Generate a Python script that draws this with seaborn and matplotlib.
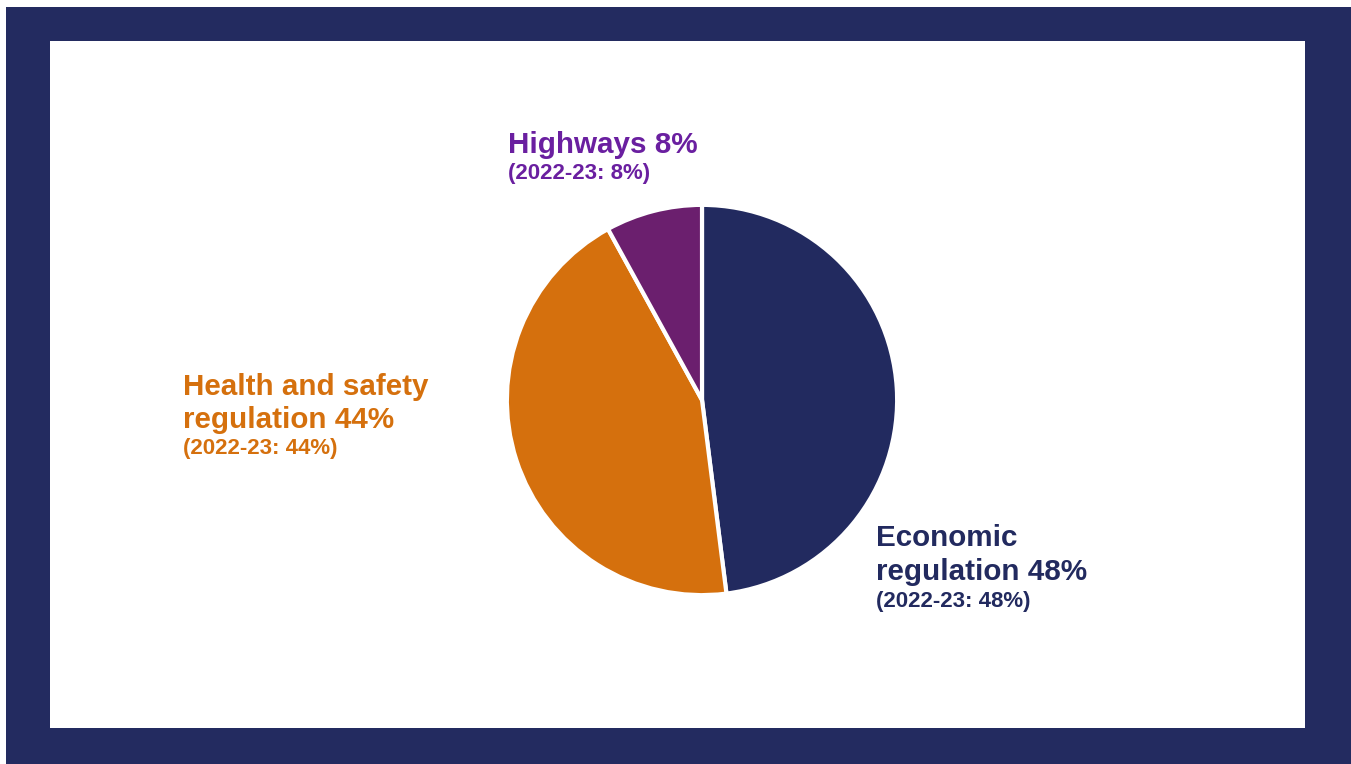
import matplotlib
matplotlib.use("Agg")
import matplotlib.pyplot as plt
import seaborn as sns
from matplotlib.patches import Rectangle

# ---- data ----
categories = ["Economic regulation", "Health and safety regulation", "Highways"]
shares = [48, 44, 8]
prior_shares = [48, 44, 8]
slice_colors = ["#222a5f", "#d5700d", "#6b1f6e"]
label_colors = ["#222a5f", "#d5700d", "#6a1fa0"]

sns.set_theme(style="white")
plt.rcParams["font.family"] = ["Liberation Sans", "DejaVu Sans"]

W, H = 1351, 764
fig = plt.figure(figsize=(W / 100, H / 100), dpi=100)
fig.patch.set_facecolor("#232b60")

def fx(x):
    return x / W

def fy(y):
    return (H - y) / H

# white margins of the screenshot and inner white panel
fig.patches.append(Rectangle((0, 0), fx(6), 1, transform=fig.transFigure,
                             facecolor="white", edgecolor="none", zorder=-5))
fig.patches.append(Rectangle((0, fy(7)), 1, 7 / H, transform=fig.transFigure,
                             facecolor="white", edgecolor="none", zorder=-5))
fig.patches.append(Rectangle((fx(50), fy(728)), (1305 - 50) / W, (728 - 41) / H,
                             transform=fig.transFigure, facecolor="white",
                             edgecolor="none", zorder=-5))

# pie axes: centre (702, 400), radius ~195 px
cx, cy, half = 702, 400, 200
ax = fig.add_axes([fx(cx - half), fy(cy + half), 2 * half / W, 2 * half / H])
ax.set_zorder(2)
ax.set_facecolor("none")
ax.pie(shares, colors=slice_colors, startangle=90, counterclock=False,
       wedgeprops=dict(edgecolor="white", linewidth=3))
ax.set_xlim(-1.025, 1.025)
ax.set_ylim(-1.025, 1.025)
ax.set_aspect("equal")
ax.axis("off")

# labels
big, small = 21.3, 16
kw = dict(fontweight="bold", va="baseline", ha="left", zorder=3)
# Highways
fig.text(fx(508), fy(153), f"Highways {shares[2]}%", color=label_colors[2],
         fontsize=big, **kw)
fig.text(fx(508), fy(179), f"(2022-23: {prior_shares[2]}%)", color=label_colors[2],
         fontsize=small, **kw)
# Health and safety
fig.text(fx(183), fy(395), "Health and safety", color=label_colors[1],
         fontsize=big, **kw)
fig.text(fx(183), fy(428), f"regulation {shares[1]}%", color=label_colors[1],
         fontsize=big, **kw)
fig.text(fx(183), fy(454), f"(2022-23: {prior_shares[1]}%)", color=label_colors[1],
         fontsize=small, **kw)
# Economic
fig.text(fx(876), fy(546), "Economic", color=label_colors[0],
         fontsize=big, **kw)
fig.text(fx(876), fy(580), f"regulation {shares[0]}%", color=label_colors[0],
         fontsize=big, **kw)
fig.text(fx(876), fy(607), f"(2022-23: {prior_shares[0]}%)", color=label_colors[0],
         fontsize=small, **kw)

fig.savefig("out.png", dpi=100, facecolor=fig.get_facecolor())
